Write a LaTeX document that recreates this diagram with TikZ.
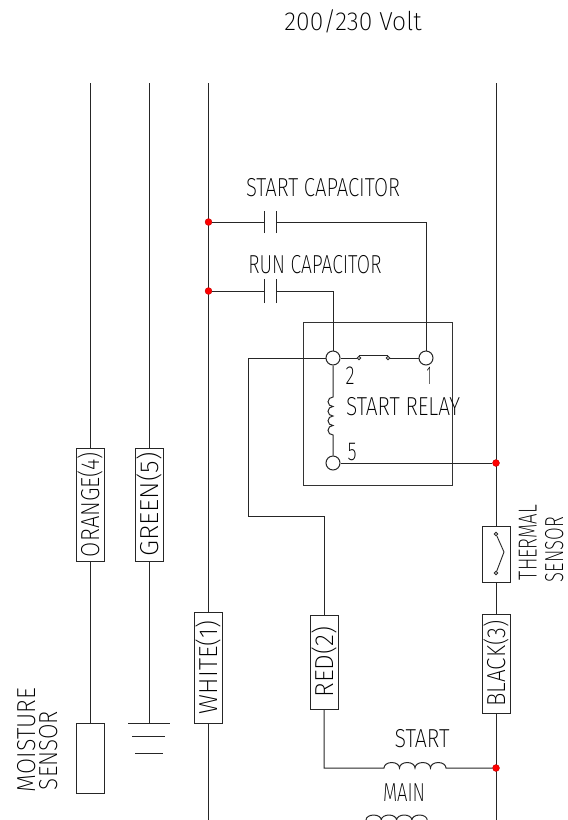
\documentclass[tikz,border=0pt]{standalone}
\usepackage{graphicx}
\usepackage{fontspec}
\setmainfont{Fira Sans}[UprightFont=* ExtraLight]
\newcommand{\fitw}[2]{\resizebox{#1pt}{\height}{#2}}
\begin{document}
\begin{tikzpicture}[x=1pt,y=-1pt,
  wire/.style={line width=1pt,draw=black!85},
  frame/.style={line width=1pt,draw=black!80},
  tag/.style={draw=black!85,line width=1pt,fill=white,rotate=90,minimum height=28pt,inner sep=0pt,text height=18pt,text depth=0pt,font=\fontsize{26}{26}\selectfont},
  lab/.style={inner sep=0pt,text height=18pt,text depth=0pt,font=\fontsize{26}{26}\selectfont},
  term/.style={circle,draw=black!85,line width=1pt,fill=white,minimum size=14pt,inner sep=0pt},
  small/.style={circle,draw=black!85,line width=0.9pt,fill=white,minimum size=3.6pt,inner sep=0pt},
  dot/.style={circle,fill=red,draw=red!70!black,line width=.3pt,minimum size=7pt,inner sep=0pt}]
\useasboundingbox (0,0) rectangle (568,820);
% coordinates
\coordinate (o1) at (90,83); \coordinate (g1) at (149,83);
\coordinate (w1) at (208.5,83); \coordinate (w2) at (208.5,820);
\coordinate (b1) at (496,83); \coordinate (b2) at (496,820);
% wires behind tags
\node[draw=black!85,line width=1pt,minimum width=28pt,minimum height=70pt,inner sep=0pt] (ms) at (90,758) {};
\draw[wire] (o1) -- (ms.north);
\coordinate (gnd) at (149,723);
\draw[wire] (g1) -- (gnd);
\coordinate (ga) at (128,723); \coordinate (gb) at (170,723);
\coordinate (gc) at (132,736.5); \coordinate (gd) at (165,736.5);
\coordinate (ge) at (135,753); \coordinate (gf) at (163,753);
\draw[wire] (ga) -- (gb); \draw[wire] (gc) -- (gd); \draw[wire] (ge) -- (gf);
\draw[wire] (w1) -- (w2);
\draw[wire] (b1) -- (b2);
% relay frame
\node[frame,rectangle,minimum width=149pt,minimum height=163pt,inner sep=0pt] (relay) at (378,403.5) {};
% terminals
\node[term] (t2) at (333,358) {};
\node[term] (t1) at (426,358) {};
\node[term] (t5) at (333,463) {};
% capacitors
\node[dot] (d1) at (208.5,222) {};
\node[dot] (d2) at (208.5,291) {};
\coordinate (c1a) at (264.7,222); \coordinate (c1b) at (276.7,222);
\coordinate (c2a) at (264.7,291); \coordinate (c2b) at (276.7,291);
\coordinate (c1r) at (426,222); \coordinate (c2r) at (333,291);
\draw[wire] (d1) -- (c1a);
\draw[wire] (c1b) -- (c1r) -- (t1);
\draw[wire] (d2) -- (c2a);
\draw[wire] (c2b) -- (c2r) -- (t2);
\draw[wire] ([yshift=-11pt]c1a) -- ([yshift=11pt]c1a);
\draw[wire] ([yshift=-11pt]c1b) -- ([yshift=11pt]c1b);
\draw[wire] ([yshift=-12pt]c2a) -- ([yshift=12pt]c2a);
\draw[wire] ([yshift=-12pt]c2b) -- ([yshift=12pt]c2b);
% relay switch
\node[small] (s1) at (359,358) {};
\node[small] (s2) at (388,358) {};
\draw[wire] (t2) -- (s1);
\draw[wire] (s2) -- (t1);
\draw[wire] (s1.north) -- (s2.north);
% relay coil
\coordinate (rc1) at (333,397); \coordinate (rc2) at (333,435);
\draw[wire] (t2) -- (rc1)
  arc[start angle=270,end angle=90,x radius=5,y radius=4.75]
  arc[start angle=270,end angle=90,x radius=5,y radius=4.75]
  arc[start angle=270,end angle=90,x radius=5,y radius=4.75]
  arc[start angle=270,end angle=90,x radius=5,y radius=4.75]
  -- (t5);
% terminal 5 to line
\node[dot] (d3) at (496,463) {};
\draw[wire] (t5) -- (d3);
% red wire
\coordinate (r1) at (248.5,358); \coordinate (r2) at (248.5,516); \coordinate (r3) at (324,516);
\node[tag,minimum width=94pt] (red) at (324,662) {\fitw{71}{RED(2)}};
\draw[wire] (t2) -- (r1) -- (r2) -- (r3) -- (red.east);
% start coil
\node[dot] (d4) at (496,768) {};
\coordinate (sc0) at (324,768); \coordinate (sc1) at (384,768); \coordinate (sc2) at (446,768);
\draw[wire] (red.west) -- (sc0) -- (sc1)
  arc[start angle=180,end angle=360,x radius=7.75,y radius=5.5]
  arc[start angle=180,end angle=360,x radius=7.75,y radius=5.5]
  arc[start angle=180,end angle=360,x radius=7.75,y radius=5.5]
  arc[start angle=180,end angle=360,x radius=7.75,y radius=5.5]
  -- (d4);
% main coil
\coordinate (mc1) at (366,820);
\draw[wire] (mc1)
  arc[start angle=180,end angle=360,x radius=7.65,y radius=5]
  arc[start angle=180,end angle=360,x radius=7.65,y radius=5]
  arc[start angle=180,end angle=360,x radius=7.65,y radius=5]
  arc[start angle=180,end angle=360,x radius=7.65,y radius=5];
% thermal sensor
\node[draw=black!85,line width=1pt,fill=white,minimum width=28pt,minimum height=56pt,inner sep=0pt] (th) at (496,554) {};
\node[small] (th1) at (496,534) {};
\node[small] (th2) at (496,573) {};
\coordinate (th3) at (504,552);
\draw[wire,line width=.9pt] (th1) -- (th3) -- (th2);
% tags
\node[tag,minimum width=113pt] (orange) at (90,504.5) {\fitw{105}{ORANGE(4)}};
\node[tag,minimum width=113pt] (green) at (149,504.5) {\fitw{104}{GREEN(5)}};
\node[tag,minimum width=111pt] (white) at (208,667.5) {\fitw{93}{WHITE(1)}};
\node[tag,minimum width=99pt] (black) at (496,663.5) {\fitw{86}{BLACK(3)}};
% labels
\node[lab] (title) at (353,21) {\fitw{137}{200/230 Volt}};
\node[lab] (lsc) at (323,187) {\fitw{154}{START CAPACITOR}};
\node[lab] (lrc) at (315,264) {\fitw{133}{RUN CAPACITOR}};
\node[lab] (l2) at (350,375.5) {\fitw{9}{2}};
\node[lab] (l1) at (429,375) {\fitw{5}{1}};
\node[lab] (l5) at (352,451) {\fitw{9}{5}};
\node[lab] (lsr) at (403,406) {\fitw{114}{START RELAY}};
\node[lab] (lst) at (422,738) {\fitw{55}{START}};
\node[lab] (lmn) at (404,792) {\fitw{42}{MAIN}};
\node[lab,rotate=90] (lth) at (527.5,542.5) {\fitw{75}{THERMAL}};
\node[lab,rotate=90] (lts) at (554,549.5) {\fitw{65}{SENSOR}};
\node[lab,rotate=90] (lmo) at (26,740) {\fitw{104}{MOISTURE}};
\node[lab,rotate=90] (lse) at (48,750.5) {\fitw{79}{SENSOR}};
\end{tikzpicture}
\end{document}
